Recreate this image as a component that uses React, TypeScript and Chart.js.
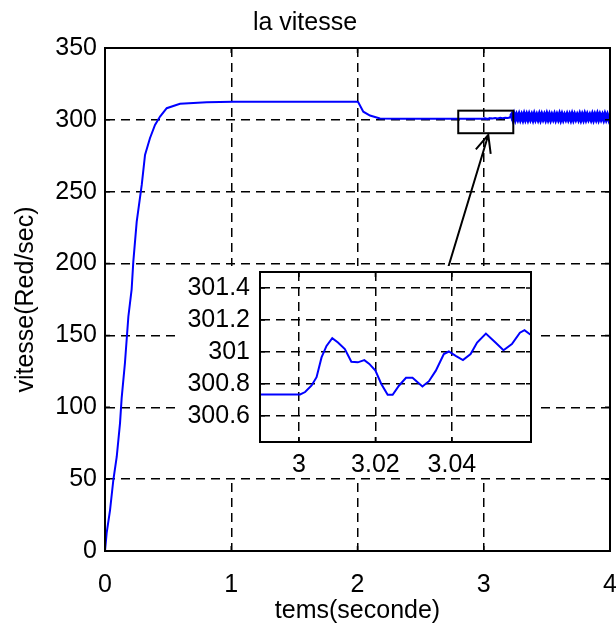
import React, { useEffect, useRef } from 'react';
import { Chart, registerables } from 'chart.js';

Chart.register(...registerables);

const FONT = "'Liberation Sans', Arial, sans-serif";

// ---- data (time in seconds, speed in rad/s) ----
const riseTime = [0, 0.013, 0.04, 0.066, 0.093, 0.119, 0.132, 0.158, 0.185, 0.211, 0.224, 0.251, 0.291, 0.317, 0.356, 0.396, 0.436, 0.489, 0.594, 0.806, 1.014, 2.0];
const riseSpeed = [0, 12.5, 28.5, 49.4, 65.6, 89, 106.5, 130.8, 163, 182, 201, 229, 254.7, 275.6, 287.2, 296.5, 302.3, 308.1, 311.2, 312.3, 312.6, 312.6];

const dropTime = [2.006, 2.046, 2.099, 2.178, 2.323, 2.6, 2.9];
const dropSpeed = [312.3, 305.7, 303.0, 300.9, 300.75, 300.73, 300.73];

const zoomTime = [2.9899, 3.0003, 3.0016, 3.0033, 3.0046, 3.0059, 3.0072, 3.0087, 3.0102, 3.012, 3.0137, 3.0154, 3.0171, 3.0184, 3.02, 3.0215, 3.0232, 3.0245, 3.0262, 3.028, 3.0297, 3.0323, 3.034, 3.0358, 3.0379, 3.0392, 3.041, 3.0429, 3.0449, 3.0466, 3.0489, 3.0514, 3.0535, 3.0557, 3.0578, 3.059, 3.0604];
const zoomSpeed = [300.733, 300.733, 300.748, 300.789, 300.841, 300.965, 301.037, 301.085, 301.058, 301.017, 300.938, 300.934, 300.948, 300.924, 300.882, 300.8, 300.731, 300.731, 300.789, 300.837, 300.837, 300.783, 300.816, 300.882, 300.986, 301.002, 300.975, 300.948, 300.986, 301.058, 301.114, 301.058, 301.01, 301.048, 301.12, 301.136, 301.11];

const tailTime = [3.07, 3.09, 3.11, 3.13, 3.15, 3.17, 3.19, 3.205, 3.215];
const tailSpeed = [301.0, 301.3, 301.0, 301.4, 301.1, 301.5, 301.3, 301.6, 302.5];

const bandTime = [
  3.22, 3.23, 3.24, 3.25, 3.26, 3.27, 3.28, 3.29, 3.30, 3.31,
  3.32, 3.33, 3.34, 3.35, 3.36, 3.37, 3.38, 3.39, 3.40, 3.41,
  3.42, 3.43, 3.44, 3.45, 3.46, 3.47, 3.48, 3.49, 3.50, 3.51,
  3.52, 3.53, 3.54, 3.55, 3.56, 3.57, 3.58, 3.59, 3.60, 3.61,
  3.62, 3.63, 3.64, 3.65, 3.66, 3.67, 3.68, 3.69, 3.70, 3.71,
  3.72, 3.73, 3.74, 3.75, 3.76, 3.77, 3.78, 3.79, 3.80, 3.81,
  3.82, 3.83, 3.84, 3.85, 3.86, 3.87, 3.88, 3.89, 3.90, 3.91,
  3.92, 3.93, 3.94, 3.95, 3.96, 3.97, 3.98, 3.99, 4.00,
];
const bandSpeed = [
  303.2, 300.8, 303.4, 300.6, 303.1, 300.9, 303.3, 300.7, 303.0, 300.6,
  303.4, 300.8, 303.2, 300.7, 303.3, 300.9, 303.1, 300.6, 303.4, 300.8,
  303.0, 300.7, 303.3, 300.6, 303.2, 300.9, 303.1, 300.7, 303.4, 300.8,
  303.2, 300.6, 303.0, 300.9, 303.3, 300.7, 303.1, 300.8, 303.4, 300.6,
  303.2, 300.7, 303.0, 300.9, 303.3, 300.8, 303.1, 300.6, 303.4, 300.7,
  303.2, 300.9, 303.0, 300.8, 303.3, 300.6, 303.1, 300.7, 303.4, 300.8,
  303.2, 300.9, 303.0, 300.7, 303.3, 300.6, 303.1, 300.8, 303.4, 300.7,
  303.2, 300.9, 303.0, 300.6, 303.3, 300.8, 303.1, 300.7, 303.2,
];

const mainXTicks = [0, 1, 2, 3, 4];
const mainYTicks = [0, 50, 100, 150, 200, 250, 300, 350];
const insetXTicks = [3, 3.02, 3.04];
const insetYTicks = [300.6, 300.8, 301, 301.2, 301.4];

// zoom rectangle and arrow (data units)
const zoomBoxTime = [2.798, 3.234];
const zoomBoxSpeed = [290.7, 306.4];
const arrowTime = [2.717, 3.036];
const arrowSpeed = [196.9, 289.5];

function series() {
  const t = [...riseTime, ...dropTime, ...zoomTime, ...tailTime, ...bandTime];
  const v = [...riseSpeed, ...dropSpeed, ...zoomSpeed, ...tailSpeed, ...bandSpeed];
  return t.map((x, i) => ({ x, y: v[i] }));
}

const framePlugin = {
  id: 'frame',
  afterDraw(chart: any) {
    const { ctx, chartArea: a, scales } = chart;
    ctx.save();
    ctx.strokeStyle = '#000';
    ctx.lineWidth = 2;
    ctx.setLineDash([]);
    ctx.strokeRect(a.left, a.top, a.right - a.left, a.bottom - a.top);
    ctx.lineWidth = 1.5;
    const tl = 5;
    ctx.beginPath();
    for (const tk of scales.x.ticks) {
      const px = scales.x.getPixelForValue(tk.value);
      ctx.moveTo(px, a.bottom); ctx.lineTo(px, a.bottom - tl);
      ctx.moveTo(px, a.top); ctx.lineTo(px, a.top + tl);
    }
    for (const tk of scales.y.ticks) {
      const py = scales.y.getPixelForValue(tk.value);
      ctx.moveTo(a.left, py); ctx.lineTo(a.left + tl, py);
      ctx.moveTo(a.right, py); ctx.lineTo(a.right - tl, py);
    }
    ctx.stroke();
    ctx.restore();
  },
};

const annotationPlugin = {
  id: 'zoomAnnot',
  afterDraw(chart: any) {
    const { ctx, scales } = chart;
    const x = scales.x, y = scales.y;
    ctx.save();
    ctx.strokeStyle = '#000';
    ctx.lineWidth = 2;
    ctx.setLineDash([]);
    const x0 = x.getPixelForValue(zoomBoxTime[0]);
    const x1 = x.getPixelForValue(zoomBoxTime[1]);
    const y0 = y.getPixelForValue(zoomBoxSpeed[1]);
    const y1 = y.getPixelForValue(zoomBoxSpeed[0]);
    ctx.strokeRect(x0, y0, x1 - x0, y1 - y0);
    const ax0 = x.getPixelForValue(arrowTime[0]);
    const ay0 = y.getPixelForValue(arrowSpeed[0]);
    const ax1 = x.getPixelForValue(arrowTime[1]);
    const ay1 = y.getPixelForValue(arrowSpeed[1]);
    ctx.beginPath();
    ctx.moveTo(ax0, ay0);
    ctx.lineTo(ax1, ay1);
    const ang = Math.atan2(ay1 - ay0, ax1 - ax0);
    const hl = 19, hw = 0.42;
    ctx.moveTo(ax1 - hl * Math.cos(ang - hw), ay1 - hl * Math.sin(ang - hw));
    ctx.lineTo(ax1, ay1);
    ctx.lineTo(ax1 - hl * Math.cos(ang + hw), ay1 - hl * Math.sin(ang + hw));
    ctx.stroke();
    ctx.restore();
  },
};

const tickFont = { family: FONT, size: 25, weight: 'normal' as const };
const gridY = { color: '#000', lineWidth: 1.5, drawTicks: false };
const borderOpts = { display: true, color: '#000', width: 2, dash: [9, 6] };

export default function App() {
  const mainRef = useRef<HTMLCanvasElement>(null);
  const insetRef = useRef<HTMLCanvasElement>(null);

  useEffect(() => {
    document.body.style.margin = '0';
    const makeDataset = () => ({
      data: series(),
      borderColor: '#0000ff',
      borderWidth: 2,
      pointRadius: 0,
      tension: 0,
      fill: false,
      segment: {
        borderWidth: (c: any) => (c.p0.parsed.x >= 3.215 ? 4 : 2),
      },
    });

    const main = new Chart(mainRef.current!, {
      type: 'line',
      data: { datasets: [makeDataset()] },
      options: {
        animation: false,
        responsive: false,
        devicePixelRatio: 1,
        layout: { padding: { left: 0, right: 6, top: 0, bottom: 0 } },
        plugins: {
          legend: { display: false },
          tooltip: { enabled: false },
          title: {
            display: true,
            text: 'la vitesse',
            color: '#000',
            font: tickFont,
            padding: { top: 8, bottom: 10 },
          },
        },
        scales: {
          x: {
            type: 'linear',
            min: 0,
            max: 4,
            afterBuildTicks: (s: any) => { s.ticks = mainXTicks.map((v) => ({ value: v })); },
            afterFit: (s: any) => { s.height = 77; s.paddingRight = 6; s.paddingLeft = 0; },
            ticks: { color: '#000', font: tickFont, padding: 0, maxRotation: 0, autoSkip: false, callback: (v: any) => String(v) },
            grid: { color: '#000', lineWidth: 1.5, drawTicks: true, tickLength: 19, tickColor: 'rgba(0,0,0,0)' },
            border: borderOpts,
            title: { display: true, text: 'tems(seconde)', color: '#000', font: tickFont, padding: { top: 0, bottom: 2 } },
          },
          y: {
            type: 'linear',
            min: 0,
            max: 350,
            afterBuildTicks: (s: any) => { s.ticks = mainYTicks.map((v) => ({ value: v })); },
            afterFit: (s: any) => { s.width = 105; },
            ticks: { color: '#000', font: tickFont, padding: 8, autoSkip: false, callback: (v: any) => String(v) },
            grid: gridY,
            border: borderOpts,
            title: { display: true, text: 'vitesse(Red/sec)', color: '#000', font: tickFont, padding: { top: 11, bottom: 0 } },
          },
        },
      } as any,
      plugins: [framePlugin, annotationPlugin],
    });

    const inset = new Chart(insetRef.current!, {
      type: 'line',
      data: { datasets: [makeDataset()] },
      options: {
        animation: false,
        responsive: false,
        devicePixelRatio: 1,
        layout: { padding: { left: 0, right: 9, top: 6, bottom: 0 } },
        plugins: { legend: { display: false }, tooltip: { enabled: false }, title: { display: false } },
        scales: {
          x: {
            type: 'linear',
            min: 2.9898,
            max: 3.0607,
            afterBuildTicks: (s: any) => { s.ticks = insetXTicks.map((v) => ({ value: v })); },
            afterFit: (s: any) => { s.height = 36; s.paddingRight = 0; s.paddingLeft = 0; },
            ticks: { color: '#000', font: tickFont, padding: 0, maxRotation: 0, autoSkip: false, callback: (v: any) => String(v) },
            grid: { color: '#000', lineWidth: 1.5, drawTicks: true, tickLength: 8, tickColor: 'rgba(0,0,0,0)' },
            border: borderOpts,
          },
          y: {
            type: 'linear',
            min: 300.435,
            max: 301.5,
            afterBuildTicks: (s: any) => { s.ticks = insetYTicks.map((v) => ({ value: v })); },
            afterFit: (s: any) => { s.width = 85; s.paddingTop = 0; s.paddingBottom = 0; },
            ticks: { color: '#000', font: tickFont, padding: 10, autoSkip: false, callback: (v: any) => String(v) },
            grid: gridY,
            border: borderOpts,
          },
        },
      } as any,
      plugins: [framePlugin],
    });

    return () => {
      main.destroy();
      inset.destroy();
    };
  }, []);

  return (
    <div style={{ position: 'fixed', left: 0, top: 0, width: 616, height: 628, background: '#fff' }}>
      <canvas ref={mainRef} width={616} height={628} style={{ position: 'absolute', left: 0, top: 0 }} />
      <canvas ref={insetRef} width={365} height={212} style={{ position: 'absolute', left: 175, top: 266, background: '#fff' }} />
    </div>
  );
}
